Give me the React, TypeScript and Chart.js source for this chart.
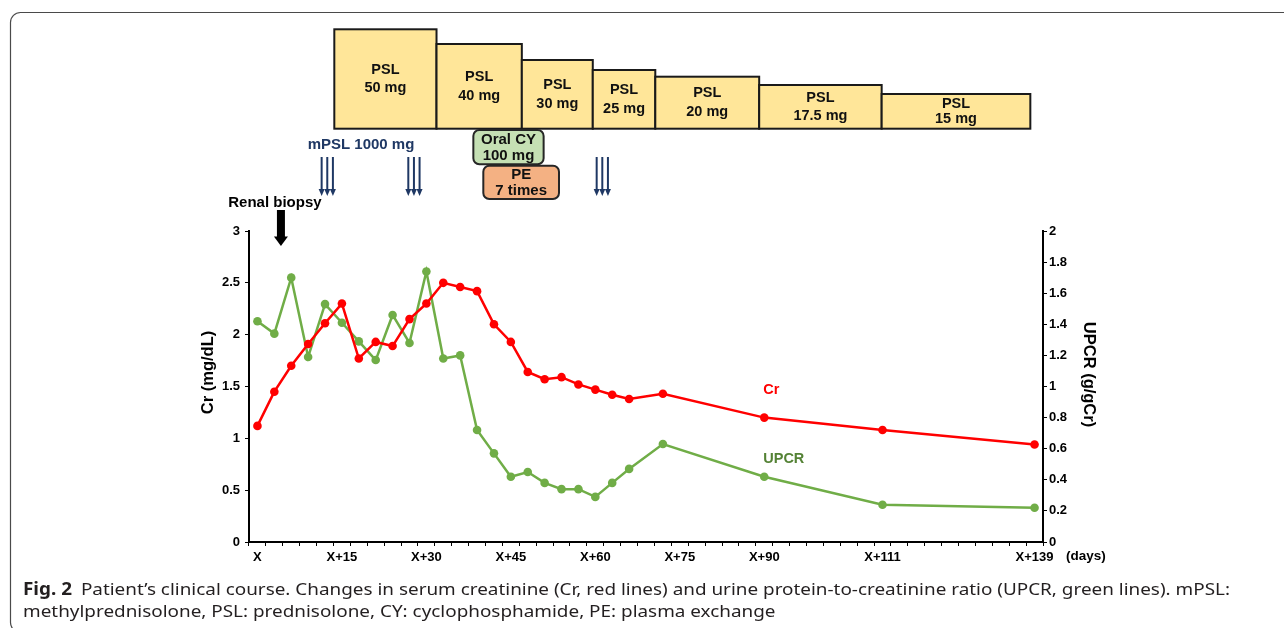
import { useEffect, useRef } from "react";
import { Chart, registerables } from "chart.js";

Chart.register(...registerables);

// ---- data (x = sampling slot, roughly 3 days per slot) ----
const crSlots = [0, 1, 2, 3, 4, 5, 6, 7, 8, 9, 10, 11, 12, 13, 14, 15, 16, 17, 18, 19, 20, 21, 22, 24, 30, 37, 46];
const crValues = [1.12, 1.45, 1.7, 1.91, 2.11, 2.3, 1.77, 1.93, 1.89, 2.15, 2.3, 2.5, 2.46, 2.42, 2.1, 1.93, 1.64, 1.57, 1.59, 1.52, 1.47, 1.42, 1.38, 1.43, 1.2, 1.08, 0.94];
const upcrValues = [1.42, 1.34, 1.7, 1.19, 1.53, 1.41, 1.29, 1.17, 1.46, 1.28, 1.74, 1.18, 1.2, 0.72, 0.57, 0.42, 0.45, 0.38, 0.34, 0.34, 0.29, 0.38, 0.47, 0.63, 0.42, 0.24, 0.22];

const xTickSlots = [0, 5, 10, 15, 20, 25, 30, 37, 46];
const xTickLabels = ["X", "X+15", "X+30", "X+45", "X+60", "X+75", "X+90", "X+111", "X+139"];

// treatment periods (in slots)
const pslLabels = ["50 mg", "40 mg", "30 mg", "25 mg", "20 mg", "17.5 mg", "15 mg"];
const pslBounds = [4.55, 10.6, 15.65, 19.85, 23.55, 29.7, 36.95, 45.75];
const mpslStartSlots = [3.8, 8.93, 20.08];
const cySlots = [12.78, 16.94];
const peSlots = [13.37, 17.85];
const biopsySlot = 1.39;

// ---- layout (pixels) ----
const PSL_TOPS = [29.3, 44, 60, 70, 76.7, 85, 94];
const PSL_BOTTOM = 128.7;

const BOLD = (s: number) => `bold ${s}px "Liberation Sans", Arial, sans-serif`;

const annotations = {
  id: "annotations",
  beforeDraw(chart: any) {
    const ctx = chart.ctx;
    ctx.save();
    ctx.fillStyle = "#fff";
    ctx.fillRect(0, 0, chart.width, chart.height);
    ctx.restore();
  },
  afterDraw(chart: any) {
    const { ctx, scales } = chart;
    const xs = scales.x;
    const yl = scales.y;
    const yr = scales.y1;
    const px = (s: number) => xs.getPixelForValue(s);
    ctx.save();

    // frame
    ctx.strokeStyle = "#4a4a4a";
    ctx.lineWidth = 1.2;
    ctx.beginPath();
    ctx.roundRect(10.5, 12.5, 1320, 620, 10);
    ctx.stroke();

    // PSL boxes
    for (let i = 0; i < pslLabels.length; i++) {
      const x0 = px(pslBounds[i]);
      const x1 = px(pslBounds[i + 1]);
      const top = PSL_TOPS[i];
      ctx.fillStyle = "#ffe699";
      ctx.fillRect(x0, top, x1 - x0, PSL_BOTTOM - top);
      ctx.strokeStyle = "#1a1a1a";
      ctx.lineWidth = 2;
      ctx.strokeRect(x0, top, x1 - x0, PSL_BOTTOM - top);
    }
    for (let i = 0; i < pslLabels.length; i++) {
      const x0 = px(pslBounds[i]);
      const x1 = px(pslBounds[i + 1]);
      const top = PSL_TOPS[i];
      const cx = (x0 + x1) / 2;
      const cy = (top + PSL_BOTTOM) / 2;
      const gap = Math.min(18.5, (PSL_BOTTOM - top) * 0.44);
      ctx.fillStyle = "#111";
      ctx.font = BOLD(14.5);
      ctx.textAlign = "center";
      ctx.textBaseline = "middle";
      ctx.fillText("PSL", cx, cy - gap / 2);
      ctx.fillText(pslLabels[i], cx, cy + gap / 2);
    }

    // mPSL label and pulse arrows
    const navy = "#1f3864";
    ctx.fillStyle = navy;
    ctx.font = BOLD(15);
    ctx.textAlign = "center";
    ctx.textBaseline = "middle";
    ctx.fillText("mPSL 1000 mg", 361, 145);
    ctx.strokeStyle = navy;
    ctx.lineWidth = 2;
    for (const s of mpslStartSlots) {
      for (let k = 0; k < 3; k++) {
        const x = px(s + k / 3);
        ctx.beginPath();
        ctx.moveTo(x, 157);
        ctx.lineTo(x, 190);
        ctx.stroke();
        ctx.beginPath();
        ctx.moveTo(x - 3, 189);
        ctx.lineTo(x + 3, 189);
        ctx.lineTo(x, 196);
        ctx.closePath();
        ctx.fill();
      }
    }

    // Oral CY / PE boxes
    const drawTag = (slots: number[], top: number, h: number, fill: string, l1: string, l2: string) => {
      const x0 = px(slots[0]);
      const x1 = px(slots[1]);
      ctx.beginPath();
      ctx.roundRect(x0, top, x1 - x0, h, 6);
      ctx.fillStyle = fill;
      ctx.fill();
      ctx.strokeStyle = "#262626";
      ctx.lineWidth = 2;
      ctx.stroke();
      ctx.fillStyle = "#111";
      ctx.font = BOLD(15);
      ctx.textAlign = "center";
      ctx.textBaseline = "middle";
      const cx = (x0 + x1) / 2;
      ctx.fillText(l1, cx, top + h / 2 - 7.5);
      ctx.fillText(l2, cx, top + h / 2 + 8.5);
    };
    drawTag(cySlots, 130, 34.3, "#c5e0b4", "Oral CY", "100 mg");
    drawTag(peSlots, 165.7, 33.3, "#f4b183", "PE", "7 times");

    // Renal biopsy
    const bx = px(biopsySlot);
    ctx.fillStyle = "#000";
    ctx.font = BOLD(15);
    ctx.textAlign = "center";
    ctx.textBaseline = "middle";
    ctx.fillText("Renal biopsy", bx - 6, 203);
    ctx.fillRect(bx - 4, 210, 8, 27);
    ctx.beginPath();
    ctx.moveTo(bx - 7, 236.5);
    ctx.lineTo(bx + 7, 236.5);
    ctx.lineTo(bx, 246);
    ctx.closePath();
    ctx.fill();

    // axis titles
    ctx.font = BOLD(16.5);
    ctx.fillStyle = "#000";
    ctx.save();
    ctx.translate(208, (yl.top + yl.bottom) / 2 - 14);
    ctx.rotate(-Math.PI / 2);
    ctx.fillText("Cr (mg/dL)", 0, 0);
    ctx.restore();
    ctx.save();
    ctx.translate(1089, (yr.top + yr.bottom) / 2 - 12);
    ctx.rotate(Math.PI / 2);
    ctx.fillText("UPCR (g/gCr)", 0, 0);
    ctx.restore();

    // (days)
    ctx.font = BOLD(13.5);
    ctx.textAlign = "left";
    ctx.fillText("(days)", 1066, 556.5);

    // series labels
    ctx.font = BOLD(14.5);
    ctx.textAlign = "left";
    ctx.fillStyle = "#ff0000";
    ctx.fillText("Cr", px(30) - 1, yl.getPixelForValue(1.466));
    ctx.fillStyle = "#548235";
    ctx.fillText("UPCR", px(30) - 1, yr.getPixelForValue(0.532));

    // caption
    const l1a = "Fig. 2";
    const l1b = "Patient\u2019s clinical course. Changes in serum creatinine (Cr, red lines) and urine protein-to-creatinine ratio (UPCR, green lines). mPSL:";
    const l2 = "methylprednisolone, PSL: prednisolone, CY: cyclophosphamide, PE: plasma exchange";
    ctx.fillStyle = "#231f20";
    ctx.textBaseline = "alphabetic";
    ctx.font = 'bold 17px "Noto Sans", sans-serif';
    const wa = ctx.measureText(l1a).width;
    ctx.font = '17px "Noto Sans", sans-serif';
    const gapW = 8;
    const wb = ctx.measureText(l1b).width;
    const sx = (1230 - 23) / (wa + gapW + wb);
    ctx.save();
    ctx.translate(23, 0);
    ctx.scale(sx, 1);
    ctx.font = 'bold 17px "Noto Sans", sans-serif';
    ctx.fillText(l1a, 0, 595);
    ctx.font = '17px "Noto Sans", sans-serif';
    ctx.fillText(l1b, wa + gapW, 595);
    ctx.fillText(l2, 0, 617);
    ctx.restore();

    ctx.restore();
  },
};

const fmt = (v: any) => String(+Number(v).toFixed(2));

export default function App() {
  const ref = useRef<HTMLCanvasElement | null>(null);
  useEffect(() => {
    document.body.style.margin = "0";
    const canvas = ref.current;
    if (!canvas) return;
    const tickFont = { family: '"Liberation Sans", Arial, sans-serif', size: 13, weight: "bold" as const };
    const chart = new Chart(canvas, {
      type: "line",
      data: {
        datasets: [
          {
            label: "Cr",
            data: crSlots.map((s, i) => ({ x: s, y: crValues[i] })),
            borderColor: "#ff0000",
            backgroundColor: "#ff0000",
            borderWidth: 2.5,
            pointRadius: 4.3,
            pointBorderWidth: 0,
            pointBackgroundColor: "#ff0000",
            yAxisID: "y",
            tension: 0,
          },
          {
            label: "UPCR",
            data: crSlots.map((s, i) => ({ x: s, y: upcrValues[i] })),
            borderColor: "#70ad47",
            backgroundColor: "#70ad47",
            borderWidth: 2.5,
            pointRadius: 4.3,
            pointBorderWidth: 0,
            pointBackgroundColor: "#70ad47",
            yAxisID: "y1",
            tension: 0,
          },
        ],
      },
      options: {
        responsive: false,
        animation: false,
        devicePixelRatio: 1,
        layout: { padding: { top: 231, left: 0, right: 0, bottom: 0 } },
        plugins: { legend: { display: false }, tooltip: { enabled: false } },
        scales: {
          x: {
            type: "linear",
            min: -0.5,
            max: 46.5,
            afterBuildTicks: (s: any) => {
              s.ticks = Array.from({ length: 47 }, (_, i) => ({ value: i }));
            },
            afterFit: (s: any) => {
              s.height = 86;
            },
            grid: { offset: true, drawOnChartArea: false, drawTicks: true, tickLength: 4, color: "#000", lineWidth: 1 },
            border: { display: true, color: "#000", width: 2 },
            ticks: {
              autoSkip: false,
              maxRotation: 0,
              padding: 4,
              color: "#000",
              font: tickFont,
              callback: (v: any) => {
                const k = xTickSlots.indexOf(Number(v));
                return k >= 0 ? xTickLabels[k] : "";
              },
            },
          },
          y: {
            type: "linear",
            position: "left",
            min: 0,
            max: 3,
            afterFit: (s: any) => {
              s.width = 249;
            },
            grid: { drawOnChartArea: false, drawTicks: true, tickLength: 4, color: "#000", lineWidth: 1 },
            border: { display: true, color: "#000", width: 2 },
            ticks: { stepSize: 0.5, padding: 5, color: "#000", font: tickFont, callback: fmt },
          },
          y1: {
            type: "linear",
            position: "right",
            min: 0,
            max: 2,
            afterFit: (s: any) => {
              s.width = 241;
            },
            grid: { drawOnChartArea: false, drawTicks: true, tickLength: 4, color: "#000", lineWidth: 1 },
            border: { display: true, color: "#000", width: 2 },
            ticks: { stepSize: 0.2, padding: 2, color: "#000", font: tickFont, callback: fmt },
          },
        },
      },
      plugins: [annotations],
    });
    return () => chart.destroy();
  }, []);
  return (
    <div style={{ position: "fixed", left: 0, top: 0, width: 1284, height: 628, background: "#fff" }}>
      <canvas ref={ref} width={1284} height={628} style={{ display: "block", width: 1284, height: 628 }} />
    </div>
  );
}
